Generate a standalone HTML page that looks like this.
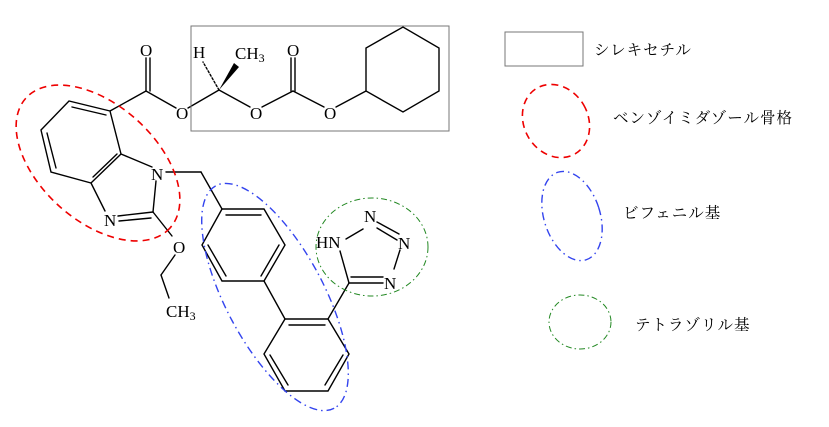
<!DOCTYPE html>
<html><head><meta charset="utf-8"><style>
html,body{margin:0;padding:0;background:#fff;width:829px;height:427px;overflow:hidden}
svg{display:block}
text{font-family:"Liberation Serif","Noto Serif CJK SC",serif;font-size:17px;fill:#000}
.j{font-family:"Liberation Serif","Noto Serif CJK JP","Noto Serif CJK SC",serif;font-size:15.5px}
</style></head><body>
<svg width="829" height="427" viewBox="0 0 829 427" xmlns="http://www.w3.org/2000/svg">
<g stroke="#000" stroke-width="1.4" fill="none" stroke-linecap="round">
<line x1="146" y1="91" x2="146" y2="58"/><line x1="150" y1="91" x2="150" y2="58"/>
<line x1="146" y1="91" x2="110" y2="111"/>
<line x1="146" y1="91" x2="176" y2="108"/>
<polyline points="110,111 69,101 41,130 51,172 91,183 121,154 110,111"/>
<line x1="72" y1="107" x2="106" y2="115"/>
<line x1="47" y1="133" x2="56" y2="168"/>
<line x1="93" y1="177" x2="117" y2="154"/>
<line x1="121" y1="154" x2="152" y2="167"/>
<line x1="91" y1="183" x2="105" y2="211"/>
<line x1="156" y1="181" x2="153" y2="212"/>
<line x1="118" y1="216" x2="153" y2="212"/>
<line x1="119" y1="221" x2="151" y2="218"/>
<line x1="153" y1="212" x2="172" y2="236"/>
<line x1="175" y1="255" x2="161" y2="275"/>
<line x1="161" y1="275" x2="169" y2="298"/>
<line x1="166" y1="172" x2="201" y2="172"/>
<line x1="201" y1="172" x2="222" y2="209"/>
<polygon points="222,209 264,209 285,245 264,281 222,281 202,245"/>
<line x1="226" y1="215" x2="261" y2="215"/>
<line x1="279" y1="245" x2="261" y2="276"/>
<line x1="208" y1="245" x2="226" y2="276"/>
<line x1="264" y1="281" x2="285" y2="319"/>
<polygon points="285,319 328,319 349,354 328,391 285,391 264,354"/>
<line x1="289" y1="325" x2="325" y2="325"/>
<line x1="343" y1="355" x2="325" y2="385"/>
<line x1="270" y1="355" x2="288" y2="385"/>
<line x1="328" y1="319" x2="349" y2="283"/>
<line x1="349" y1="283" x2="340" y2="251"/>
<line x1="346" y1="239" x2="363" y2="229"/>
<line x1="377" y1="228" x2="397" y2="240"/>
<line x1="377" y1="222" x2="399" y2="234"/>
<line x1="400" y1="250" x2="394" y2="269"/>
<line x1="349" y1="283" x2="383" y2="283"/>
<line x1="351" y1="277" x2="383" y2="277"/>
<line x1="188" y1="108" x2="219" y2="90"/>
<line x1="219" y1="90" x2="250" y2="107"/>
<line x1="262" y1="107" x2="293" y2="91"/>
<line x1="291" y1="91" x2="291" y2="58"/><line x1="295" y1="91" x2="295" y2="58"/>
<line x1="293" y1="91" x2="324" y2="107"/>
<line x1="336" y1="107" x2="366" y2="91"/>
<polygon points="366,91 366,48 403,27 439,48 439,91 403,112"/>
<line x1="219" y1="90" x2="203" y2="62" stroke-dasharray="2,2"/>
</g>
<polygon points="219,90 234,63 239,67" fill="#000"/>
<rect x="191" y="26" width="258" height="105" fill="none" stroke="#777" stroke-width="1"/>
<text x="140" y="56">O</text>
<text x="176" y="119">O</text>
<text x="151" y="180">N</text>
<text x="104" y="226">N</text>
<text x="173" y="253">O</text>
<text x="166" y="317">CH<tspan font-size="12" dy="3">3</tspan></text>
<text x="193" y="58">H</text>
<text x="235" y="59">CH<tspan font-size="12" dy="3">3</tspan></text>
<text x="287" y="56">O</text>
<text x="250" y="119">O</text>
<text x="324" y="119">O</text>
<text x="316" y="248">HN</text>
<text x="364" y="222">N</text>
<text x="398" y="249">N</text>
<text x="384" y="289">N</text>
<ellipse cx="98" cy="163" rx="97" ry="58" transform="rotate(42 98 163)" fill="none" stroke="#e00" stroke-width="1.6" stroke-dasharray="7,5"/>
<ellipse cx="275" cy="297" rx="126" ry="49" transform="rotate(62 275 297)" fill="none" stroke="#3344ee" stroke-width="1.4" stroke-dasharray="8,4,1.5,4"/>
<ellipse cx="372" cy="247" rx="56" ry="49" fill="none" stroke="#228822" stroke-width="1" stroke-dasharray="6,3,1.5,3"/>
<rect x="505" y="32" width="78" height="34" fill="none" stroke="#777" stroke-width="1"/>
<text class="j" x="594" y="55" letter-spacing="1">シレキセチル</text>
<ellipse cx="556" cy="121" rx="32" ry="38" transform="rotate(-30 556 121)" fill="none" stroke="#e00" stroke-width="1.6" stroke-dasharray="7,5"/>
<text class="j" x="613" y="123" letter-spacing="1">ベンゾイミダゾール骨格</text>
<ellipse cx="572" cy="216" rx="28" ry="46" transform="rotate(-18 572 216)" fill="none" stroke="#3344ee" stroke-width="1.4" stroke-dasharray="8,4,1.5,4"/>
<text class="j" x="623" y="218" letter-spacing="1">ビフェニル基</text>
<ellipse cx="580" cy="322" rx="31" ry="27" fill="none" stroke="#228822" stroke-width="1" stroke-dasharray="6,3,1.5,3"/>
<text class="j" x="635" y="330" letter-spacing="1">テトラゾリル基</text>
</svg>
</body></html>
